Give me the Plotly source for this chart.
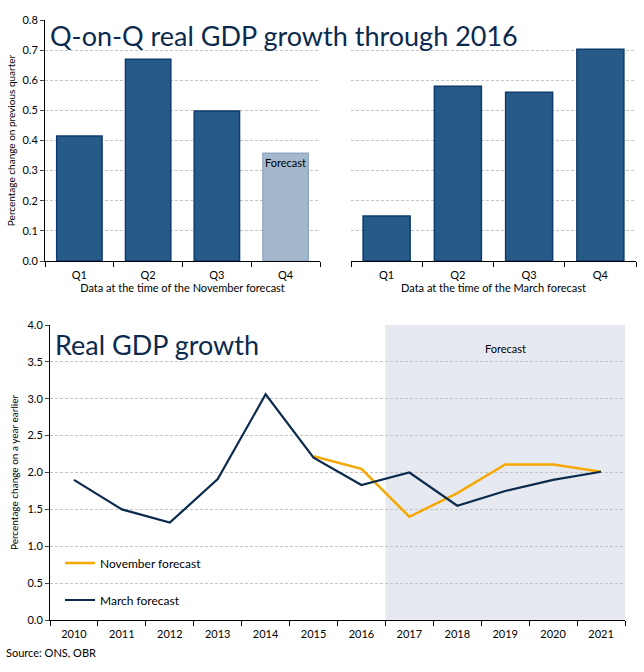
import plotly.graph_objects as go

# ---------------- data ----------------
quarters = ["Q1", "Q2", "Q3", "Q4"]
nov_quarterly = [0.415, 0.67, 0.498, 0.358]
nov_is_forecast = [False, False, False, True]
mar_quarterly = [0.149, 0.58, 0.56, 0.703]

years = ["2010", "2011", "2012", "2013", "2014", "2015", "2016",
         "2017", "2018", "2019", "2020", "2021"]
march_growth = [1.90, 1.50, 1.32, 1.91, 3.06, 2.20, 1.83, 2.00, 1.55, 1.75, 1.90, 2.01]
nov_years = ["2015", "2016", "2017", "2018", "2019", "2020", "2021"]
november_growth = [2.22, 2.05, 1.40, 1.72, 2.11, 2.11, 2.01]
forecast_start = "2017"

# ---------------- styles ----------------
FONT = "Lato"
NAVY = "#0B2A4E"
BAR = "#265A87"
BAR_EDGE = "#0D3B6E"
BAR_FC = "#A3B7CD"
ORANGE = "#F5A800"
SHADE = "#E6EAF0"
GRID = "#C4C4C4"
W, H = 644, 672

def px_x(p):
    return p / W

def px_y(p):
    return 1 - p / H

fig = go.Figure()

fig.add_trace(go.Bar(
    x=quarters, y=nov_quarterly, xaxis="x", yaxis="y",
    marker=dict(color=[BAR_FC if f else BAR for f in nov_is_forecast],
                line=dict(color=["#93A9C2" if f else BAR_EDGE for f in nov_is_forecast], width=1.5)),
    width=0.66, showlegend=False, hoverinfo="skip"))

fig.add_trace(go.Bar(
    x=quarters, y=mar_quarterly, xaxis="x2", yaxis="y2",
    marker=dict(color=BAR, line=dict(color=BAR_EDGE, width=1.5)),
    width=0.66, showlegend=False, hoverinfo="skip"))

fig.add_trace(go.Scatter(
    x=nov_years, y=november_growth, xaxis="x3", yaxis="y3", mode="lines",
    line=dict(color=ORANGE, width=2.5), name="November forecast", legend="legend"))

fig.add_trace(go.Scatter(
    x=years, y=march_growth, xaxis="x3", yaxis="y3", mode="lines",
    line=dict(color=NAVY, width=2.2), name="March forecast", legend="legend2"))

top_y = [px_y(261), px_y(20)]
bot_y = [px_y(620), px_y(325)]

common_x = dict(type="category", showline=True, linecolor="black", linewidth=1,
                ticks="outside", tickson="boundaries", ticklen=5, tickcolor="black",
                showgrid=False, automargin=False, ticklabelstandoff=4,
                tickfont=dict(family=FONT, size=11, color="black"),
                title_font=dict(family=FONT, size=11, color="black"), fixedrange=True)
grid_y = dict(showgrid=True, gridcolor=GRID, griddash="3px,2px", gridwidth=1,
              zeroline=False, fixedrange=True, automargin=False)

fig.update_layout(
    width=W, height=H, margin=dict(l=0, r=0, t=0, b=0),
    paper_bgcolor="white", plot_bgcolor="white",
    font=dict(family=FONT, color="black"),
    xaxis=dict(domain=[px_x(45), px_x(320)], anchor="y",
               categoryorder="array", categoryarray=quarters,
               range=[-0.5, len(quarters) - 0.5],
               title=dict(text="Data at the time of the November forecast", standoff=3),
               **common_x),
    yaxis=dict(domain=top_y, anchor="x", range=[0, 0.8], dtick=0.1, tickformat=".1f",
               showline=True, linecolor="black", ticks="outside", ticklen=4,
               tickfont=dict(family=FONT, size=11, color="black"),
               title=dict(text="Percentage change on previous quarter",
                          font=dict(family=FONT, size=10, color="black"), standoff=4),
               **grid_y),
    xaxis2=dict(domain=[px_x(351), px_x(636)], anchor="y2",
                categoryorder="array", categoryarray=quarters,
                range=[-0.5, len(quarters) - 0.5],
                title=dict(text="Data at the time of the March forecast", standoff=3),
                **common_x),
    yaxis2=dict(domain=top_y, anchor="x2", range=[0, 0.8], dtick=0.1,
                showline=False, showticklabels=False, ticks="", **grid_y),
    xaxis3=dict(domain=[px_x(50), px_x(625)], anchor="y3",
                categoryorder="array", categoryarray=years,
                range=[-0.5, len(years) - 0.5], **common_x),
    yaxis3=dict(domain=bot_y, anchor="x3", range=[0, 4.0], dtick=0.5, tickformat=".1f",
                showline=True, linecolor="black", ticks="outside", ticklen=4,
                tickfont=dict(family=FONT, size=11, color="black"),
                title=dict(text="Percentage change on a year earlier",
                           font=dict(family=FONT, size=10, color="black"), standoff=6),
                **grid_y),
    legend=dict(x=px_x(60), y=px_y(563), xanchor="left", yanchor="middle",
                bgcolor="rgba(0,0,0,0)", font=dict(family=FONT, size=12, color="black"),
                itemwidth=30),
    legend2=dict(x=px_x(60), y=px_y(600), xanchor="left", yanchor="middle",
                 bgcolor="rgba(0,0,0,0)", font=dict(family=FONT, size=12, color="black"),
                 itemwidth=30),
)

fs = years.index(forecast_start)
fig.add_shape(type="rect", xref="x3", yref="y3 domain",
              x0=fs - 0.5, x1=len(years) - 0.5, y0=0, y1=1,
              fillcolor=SHADE, line=dict(width=0), layer="below")

fig.add_annotation(xref="x3", yref="y3 domain", x=(fs - 0.5 + len(years) - 0.5) / 2, y=0.95,
                   text="Forecast", showarrow=False,
                   font=dict(family=FONT, size=11, color="black"))

q4 = quarters.index("Q4")
fig.add_annotation(xref="x", yref="y", x=quarters[q4], y=nov_quarterly[q4],
                   yanchor="top", yshift=-1, text="Forecast", showarrow=False,
                   font=dict(family=FONT, size=11, color="black"))

fig.add_annotation(xref="paper", yref="paper", x=px_x(48), y=px_y(35),
                   xanchor="left", yanchor="middle",
                   text="Q-on-Q real GDP growth through 2016", showarrow=False,
                   font=dict(family=FONT, size=27, color=NAVY))
fig.add_annotation(xref="paper", yref="paper", x=px_x(53), y=px_y(344),
                   xanchor="left", yanchor="middle",
                   text="Real GDP growth", showarrow=False,
                   font=dict(family=FONT, size=27, color=NAVY))
fig.add_annotation(xref="paper", yref="paper", x=px_x(4), y=px_y(652),
                   xanchor="left", yanchor="middle",
                   text="Source: ONS, OBR", showarrow=False,
                   font=dict(family=FONT, size=11, color="black"))

fig.write_html("out.html", config={"displayModeBar": False},
               post_script="document.body.style.margin='0px';document.body.style.padding='0px';")
